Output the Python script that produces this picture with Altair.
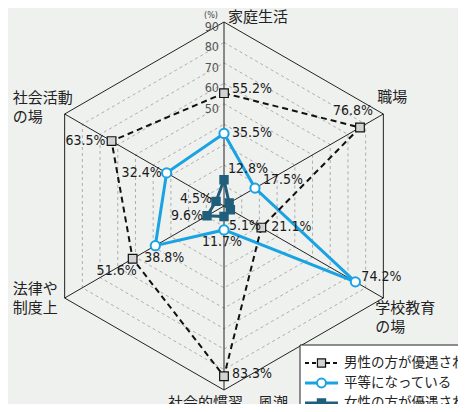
import math
import altair as alt
import pandas as pd

# ---------------- data ----------------
categories = ["家庭生活", "職場", "学校教育\nの場", "社会的慣習、風潮", "法律や\n制度上", "社会活動\nの場"]
angles_deg = [90, 30, -30, -90, 210, 150]
series_names = ["男性の方が優遇されている", "平等になっている", "女性の方が優遇されている"]
male = [55.2, 76.8, 21.1, 83.3, 51.6, 63.5]
equal = [35.5, 17.5, 74.2, 11.7, 38.8, 32.4]
female = [12.8, 2.9, 3.6, 5.1, 9.6, 4.5]
female_labelled = [0, 3, 4, 5]
grid_levels = [10, 20, 30, 40, 50, 60, 70, 80, 90]
tick_values = [50, 60, 70, 80, 90]

# ---------------- geometry / style ----------------
W, H = 450, 396
CX, CY = 216, 198
K = 184 / 90.0
xs = alt.Scale(domain=[-CX / K, (W - CX) / K], nice=False, zero=False)
ys = alt.Scale(domain=[-(H - CY) / K, CY / K], nice=False, zero=False)
BG = "#eff1ef"
BLUE = "#19a3e2"
TEAL = "#1f5f7c"
NUMFONT = "Liberation Sans Narrow, DejaVu Sans Condensed, Liberation Sans, Arial, sans-serif"
JPFONT = "Noto Sans CJK JP, sans-serif"


def pos(v, i):
    a = math.radians(angles_deg[i])
    return v * math.cos(a), v * math.sin(a)


def XY():
    return dict(x=alt.X("x:Q", scale=xs, axis=None), y=alt.Y("y:Q", scale=ys, axis=None))


# grid hexagons
grows = []
for lv in grid_levels:
    for j in range(7):
        x, y = pos(lv, j % 6)
        grows.append({"level": lv, "ord": j, "x": x, "y": y})
gdf = pd.DataFrame(grows)
grid_inner = alt.Chart(gdf[gdf.level < 90]).mark_line(
    stroke="#9c9c9c", strokeWidth=0.8, strokeDash=[3, 3]
).encode(**XY(), detail="level:N", order="ord:Q")
grid_outer = alt.Chart(gdf[gdf.level == 90]).mark_line(
    stroke="#222222", strokeWidth=1
).encode(**XY(), order="ord:Q")

# spokes
srows = []
for i in range(6):
    x, y = pos(90, i)
    srows.append({"x": x, "y": y, "x0": 0.0, "y0": 0.0})
sdf = pd.DataFrame(srows)
spokes = alt.Chart(sdf).mark_rule(stroke="#222222", strokeWidth=1).encode(
    **XY(), x2="x0:Q", y2="y0:Q"
)

# tick labels
tdf = pd.DataFrame({"x": [0.0] * len(tick_values), "y": tick_values, "t": [str(v) for v in tick_values]})
ticks = alt.Chart(tdf).mark_text(
    align="right", baseline="middle", dx=-5, dy=5, font=NUMFONT, fontSize=12.5, color="#555555"
).encode(**XY(), text="t:N")
pct = alt.Chart(pd.DataFrame({"x": [0.0], "y": [90.0], "t": ["(%)"]})).mark_text(
    align="right", baseline="middle", dx=-6, dy=-7, font=NUMFONT, fontSize=9, color="#444444"
).encode(**XY(), text="t:N")


def series_df(vals):
    rows = []
    for j in range(7):
        i = j % 6
        x, y = pos(vals[i], i)
        rows.append({"ord": j, "x": x, "y": y, "v": vals[i], "cat": i})
    return pd.DataFrame(rows)


mdf, edf, fdf = series_df(male), series_df(equal), series_df(female)
male_line = alt.Chart(mdf).mark_line(stroke="#111111", strokeWidth=2, strokeDash=[6, 4]).encode(**XY(), order="ord:Q")
equal_line = alt.Chart(edf).mark_line(stroke=BLUE, strokeWidth=3).encode(**XY(), order="ord:Q")
female_line = alt.Chart(fdf).mark_line(stroke=TEAL, strokeWidth=3).encode(**XY(), order="ord:Q")

male_pts = alt.Chart(mdf[mdf.ord < 6]).mark_point(
    shape="square", fill="#d2d2d2", stroke="#111111", strokeWidth=1.2, size=75, opacity=1, fillOpacity=1
).encode(**XY())
equal_pts = alt.Chart(edf[edf.ord < 6]).mark_point(
    shape="circle", fill="white", stroke=BLUE, strokeWidth=2, size=85, opacity=1, fillOpacity=1
).encode(**XY())
female_pts = alt.Chart(fdf[fdf.ord < 6]).mark_point(
    shape="square", fill=TEAL, stroke=TEAL, size=55, opacity=1, fillOpacity=1
).encode(**XY())

# value labels: offsets in px (dx, dy down-positive, align)
offs = {
    (0, 0): (8, -4, "left"), (0, 1): (-7, -16, "center"), (0, 2): (10, -1, "left"),
    (0, 3): (8, -2, "left"), (0, 4): (4, 12, "right"), (0, 5): (-6, 0, "right"),
    (1, 0): (8, 0, "left"), (1, 1): (8, -8, "left"), (1, 2): (6, -5, "left"),
    (1, 3): (-2, 12, "center"), (1, 4): (9, 12, "center"), (1, 5): (-5, 0, "right"),
    (2, 0): (4, -11, "left"), (2, 3): (5, 10, "left"), (2, 4): (-4, 0, "right"),
    (2, 5): (-4, -2, "right"),
}
lrows = []
for s, vals in enumerate([male, equal, female]):
    for i in range(6):
        if s == 2 and i not in female_labelled:
            continue
        dx, dy, al = offs[(s, i)]
        x, y = pos(vals[i], i)
        lrows.append({"x": x + dx / K, "y": y - dy / K, "t": f"{vals[i]:.1f}%", "al": al})
ldf = pd.DataFrame(lrows)
label_layers = []
for al in ["left", "right", "center"]:
    sub = ldf[ldf.al == al]
    label_layers.append(
        alt.Chart(sub).mark_text(
            align=al, baseline="middle", font=NUMFONT, fontSize=14, color="#1a1a1a"
        ).encode(**XY(), text="t:N")
    )

# category labels: offsets from outer vertex in px (dx, dy to text top, align)
coffs = [(4, -12, "left"), (-6, -24, "left"), (-8, 3, "left"), (4, 6, "center"),
         (-52, -16, "left"), (-52, -23, "left")]
crows = []
for i, c in enumerate(categories):
    x, y = pos(90, i)
    dx, dy, al = coffs[i]
    crows.append({"x": x + dx / K, "y": y - dy / K, "t": c, "al": al})
cdf = pd.DataFrame(crows)
cat_layers = []
for al in ["left", "center"]:
    cat_layers.append(
        alt.Chart(cdf[cdf.al == al]).mark_text(
            align=al, baseline="top", font=JPFONT, fontSize=15, lineHeight=19,
            lineBreak="\n", color="#222222"
        ).encode(**XY(), text="t:N")
    )

# legend (manual)
one = pd.DataFrame({"a": [0]})
leg_layers = [
    alt.Chart(one).mark_rect(fill="white", stroke="#222222", strokeWidth=1).encode(
        x=alt.value(292), x2=alt.value(470), y=alt.value(337), y2=alt.value(430)
    )
]
leg_y = [355, 375, 395]
line_styles = [
    dict(stroke="#111111", strokeWidth=2, strokeDash=[4, 3]),
    dict(stroke=BLUE, strokeWidth=3),
    dict(stroke=TEAL, strokeWidth=3),
]
pt_styles = [
    dict(shape="square", fill="#d2d2d2", stroke="#111111", strokeWidth=1.2, size=65),
    dict(shape="circle", fill="white", stroke=BLUE, strokeWidth=2, size=80),
    dict(shape="square", fill=TEAL, stroke=TEAL, size=55),
]
for k, name in enumerate(series_names):
    yy = leg_y[k]
    leg_layers.append(alt.Chart(one).mark_rule(**line_styles[k]).encode(
        x=alt.value(297), x2=alt.value(330), y=alt.value(yy)))
    leg_layers.append(alt.Chart(one).mark_point(opacity=1, fillOpacity=1, **pt_styles[k]).encode(
        x=alt.value(313.5), y=alt.value(yy)))
    leg_layers.append(alt.Chart(one).mark_text(
        align="left", baseline="middle", font=JPFONT, fontSize=13.5, color="#222222"
    ).encode(x=alt.value(336), y=alt.value(yy), text=alt.value(name)))

chart = alt.layer(
    grid_inner, grid_outer, spokes, ticks, pct,
    equal_line, female_line, male_line,
    equal_pts, female_pts, male_pts,
    *label_layers, *cat_layers, *leg_layers
).properties(
    width=W, height=H, autosize=alt.AutoSizeParams(type="none"), padding=0, background=BG
).configure_view(stroke=None)

chart.save("out.html", embed_options={"renderer": "svg", "actions": False})
